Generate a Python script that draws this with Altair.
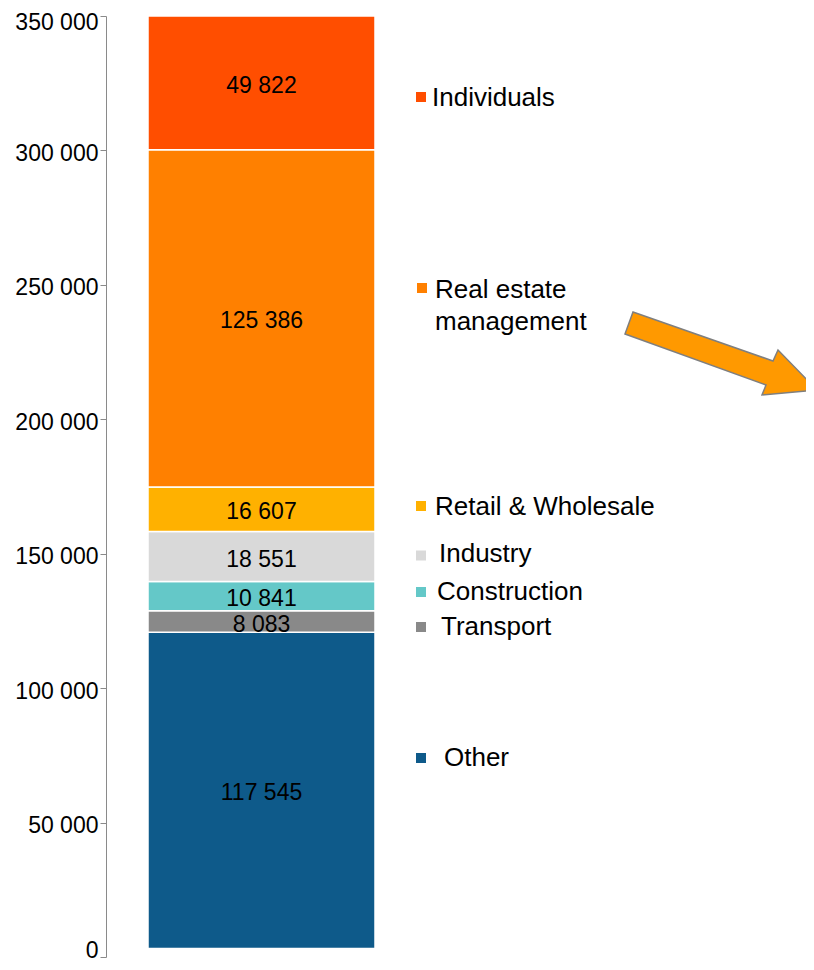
import altair as alt
import pandas as pd

# ---- data ----
categories = ["Other", "Transport", "Construction", "Industry",
              "Retail & Wholesale", "Real estate management", "Individuals"]
values = [117545, 8083, 10841, 18551, 16607, 125386, 49822]
colors = ["#0E5A8A", "#898989", "#64C8C8", "#D9D9D9", "#FFB100", "#FF8000", "#FF4E00"]
bar_base = 3200          # the bar sits slightly above zero in the reference
y_ticks = [0, 50000, 100000, 150000, 200000, 250000, 300000, 350000]

# ---- legend texts and layout (pixel positions inside the plot area) ----
legend_cats = ["Individuals", "Real estate management", "Retail & Wholesale",
               "Industry", "Construction", "Transport", "Other"]
legend_sq_x = [315, 316, 315, 315, 315, 315, 315]
legend_sq_y = [81, 272, 490, 539.5, 576, 611, 742]
legend_lines = ["Individuals", "Real estate", "management", "Retail & Wholesale",
                "Industry", "Construction", "Transport", "Other"]
legend_txt_x = [326, 329, 329, 329, 333, 331, 335, 338]
legend_txt_y = [81.5, 274, 306, 491, 538, 576, 611, 742]

# ---- tables ----
df = pd.DataFrame({"category": categories, "value": values})
df["end"] = bar_base + df["value"].cumsum()
df["start"] = df["end"] - df["value"]
df["mid"] = (df["start"] + df["end"]) / 2
df["label"] = df["value"].map(lambda v: f"{v:,}".replace(",", " "))
df["group"] = "all"

cmap = dict(zip(categories, colors))
leg_sq = pd.DataFrame({"category": legend_cats, "px": legend_sq_x, "py": legend_sq_y})
leg_sq["col"] = leg_sq["category"].map(cmap)
leg_tx = pd.DataFrame({"text": legend_lines, "px": legend_txt_x, "py": legend_txt_y})

FONT = "Liberation Sans, Arial, Helvetica, sans-serif"

xscale = alt.Scale(range=[42, 269], paddingInner=0, paddingOuter=0)
yscale = alt.Scale(domain=[0, 350000], nice=False, zero=True)

label_offset = {
    "condition": [
        {"test": "datum.value === 0", "value": -7},
        {"test": "datum.value === 350000", "value": 6},
    ],
    "value": 3,
}

bars = alt.Chart(df).mark_bar(stroke="white", strokeWidth=1.5).encode(
    x=alt.X("group:N", scale=xscale, axis=None),
    y=alt.Y("start:Q", scale=yscale, title=None,
            axis=alt.Axis(values=y_ticks, grid=False,
                          labelExpr="replace(format(datum.value, ','), ',', ' ')",
                          domainColor="#8A8A8A", tickColor="#8A8A8A", tickSize=6,
                          labelPadding=2, labelFontSize=23, labelFont=FONT,
                          labelColor="#000000", labelOffset=label_offset)),
    y2="end:Q",
    color=alt.Color("category:N", scale=alt.Scale(domain=categories, range=colors), legend=None),
)

labels = alt.Chart(df).mark_text(fontSize=23, font=FONT, color="#000000",
                                 baseline="middle", dy=3).encode(
    x=alt.X("group:N", scale=xscale, axis=None),
    y=alt.Y("mid:Q", scale=yscale, axis=None),
    text="label:N",
)

leg_squares = alt.Chart(leg_sq).mark_square(size=100, opacity=1, filled=True).encode(
    x=alt.X("px:Q", scale=None, axis=None),
    y=alt.Y("py:Q", scale=None, axis=None),
    color=alt.Color("col:N", scale=None, legend=None),
)

leg_texts = alt.Chart(leg_tx).mark_text(fontSize=26, font=FONT, color="#000000",
                                        align="left", baseline="middle").encode(
    x=alt.X("px:Q", scale=None, axis=None),
    y=alt.Y("py:Q", scale=None, axis=None),
    text="text:N",
)

arrow_path = ("M -0.9167 -0.4323 L 0.5417 0.0781 L 0.5938 -0.0365 L 1.0 0.3802 "
              "L 0.4271 0.4323 L 0.4688 0.3281 L -1.0 -0.2031 Z")
arrow = alt.Chart(pd.DataFrame({"a": [0]})).mark_point(
    shape=arrow_path, size=36864, filled=True, fill="#FF9900",
    stroke="#7F7F7F", strokeWidth=1.5, opacity=1,
).encode(x=alt.value(615), y=alt.value(337.5))

chart = alt.layer(bars, labels, leg_squares, leg_texts, arrow).resolve_scale(
    x="independent", y="independent", color="independent"
).properties(
    width=700, height=941,
    autosize=alt.AutoSizeParams(type="none"),
    padding={"left": 98, "top": 8, "right": 0, "bottom": 5},
).configure_view(stroke=None)

chart.save("out.html", embed_options={"renderer": "svg", "actions": False})
